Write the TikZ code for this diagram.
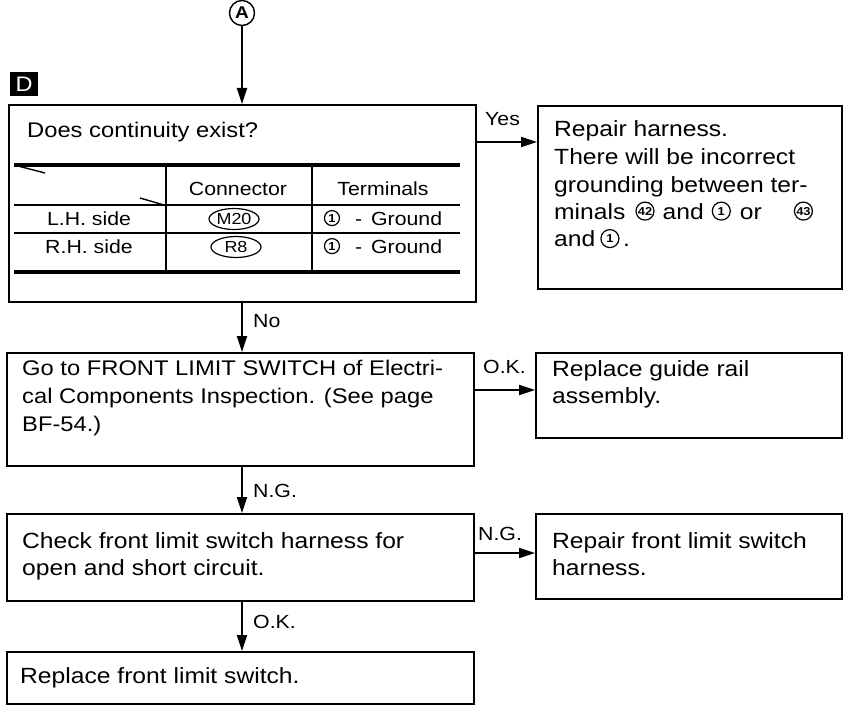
\documentclass[tikz,border=0pt]{standalone}
\usepackage{fontspec}
\setmainfont{Liberation Sans}[FakeStretch=1.12]
\usetikzlibrary{arrows.meta,shapes.geometric}
\newcommand\cnum[2][17pt]{\tikz[baseline={([yshift=1.2pt]cn.south)}]\node[draw,circle,line width=1.2pt,inner sep=0pt,minimum size=#1,font=\fontsize{11.5}{11.5}\selectfont\bfseries](cn){#2};}
\tikzset{
 box/.style={draw, line width=2.1pt, inner sep=0pt, anchor=north west},
 txt/.style={inner sep=0pt, anchor=base west, font=\fontsize{22}{27.5}\selectfont},
 txtsmall/.style={inner sep=0pt, anchor=base west, font=\fontsize{21.2}{28}\selectfont},
 lbl/.style={inner sep=0pt, anchor=base west, font=\fontsize{19}{19}\selectfont},
 tbl/.style={inner sep=0pt, anchor=base, font=\fontsize{19}{19}\selectfont},
 conn/.style={ellipse, draw, line width=1.2pt, minimum width=50pt, minimum height=21pt, inner sep=0pt, font=\fontsize{16}{16}\selectfont},
 arr/.style={line width=2pt, -{Triangle[length=16pt,width=10pt]}},
 thick rule/.style={line width=3.6pt},
 thin rule/.style={line width=1.4pt},
}
\begin{document}
\begin{tikzpicture}[x=1pt,y=-1pt]
\useasboundingbox (0,0) rectangle (843,706);
% start marker and section tag
\node[draw, circle, line width=1.4pt, minimum size=25pt, inner sep=0pt, font=\fontsize{17}{17}\selectfont\bfseries] (A) at (242,13) {A};
\node[fill=black, minimum width=28pt, minimum height=24pt, inner sep=0pt, text=white, font=\fontsize{21}{21}\selectfont] (D) at (24,84) {D};
% boxes
\node[box, minimum width=467pt, minimum height=197pt] (b1) at (8,104) {};
\node[box, minimum width=304pt, minimum height=183pt] (b2) at (537,105) {};
\node[box, minimum width=467pt, minimum height=113pt] (b3) at (6,352) {};
\node[box, minimum width=306pt, minimum height=85pt] (b4) at (535,352) {};
\node[box, minimum width=467pt, minimum height=87pt] (b5) at (6,513) {};
\node[box, minimum width=306pt, minimum height=85pt] (b6) at (535,513) {};
\node[box, minimum width=467pt, minimum height=52pt] (b7) at (6,651) {};
% texts
\node[txtsmall] (t1) at (27,138) {Does continuity exist?};
\node[txt] (t2) at (554,137) {\vtop{\hbox{Repair harness.}\hbox{There will be incorrect}\hbox{grounding between ter-}\hbox{minals\hspace{10pt}\cnum[18pt]{42}\hspace{8pt}and\hspace{8pt}\cnum[18pt]{1}\hspace{9pt}or\hspace{32pt}\cnum[18pt]{43}}\hbox{and\hspace{5pt}\cnum[18pt]{1}\,.}}};
\node[txtsmall] (t3) at (22,375) {\vtop{\hbox{Go to FRONT LIMIT SWITCH of Electri-}\hbox{cal Components Inspection. (See page}\hbox{BF-54.)}}};
\node[txt] (t4) at (552,376) {\vtop{\hbox{Replace guide rail}\hbox{assembly.}}};
\node[txt] (t5) at (22,548) {\vtop{\hbox{Check front limit switch harness for}\hbox{open and short circuit.}}};
\node[txt] (t6) at (552,548) {\vtop{\hbox{Repair front limit switch}\hbox{harness.}}};
\node[txt] (t7) at (20,683) {Replace front limit switch.};
% table
\draw[thick rule] (14,165) -- (460,165);
\draw[thin rule] (14,205) -- (460,205);
\draw[thin rule] (14,233) -- (460,233);
\draw[thick rule] (14,272) -- (460,272);
\draw[thin rule] (166,165) -- (166,272);
\draw[thin rule] (312,165) -- (312,272);
\draw[thin rule] (18,166) -- (45,173);
\draw[thin rule] (140,198) -- (164,205);
\node[tbl] (h1) at (238,195) {Connector};
\node[tbl] (h2) at (383,195) {Terminals};
\node[tbl] (r1) at (89,225) {L.H. side};
\node[tbl] (r2) at (89,253) {R.H. side};
\node[conn] (m20) at (234,219) {M20};
\node[conn] (r8) at (236,247) {R8};
\node[tbl] (g1) at (383,225) {\cnum[15pt]{1}\hspace{15pt}-\hspace{9pt}Ground};
\node[tbl] (g2) at (383,253) {\cnum[15pt]{1}\hspace{15pt}-\hspace{9pt}Ground};
% labels
\node[lbl] (lyes) at (485,125) {Yes};
\node[lbl] (lno) at (253,327) {No};
\node[lbl] (lok1) at (483,373) {O.K.};
\node[lbl] (lng1) at (253,497) {N.G.};
\node[lbl] (lng2) at (478,540) {N.G.};
\node[lbl] (lok2) at (253,628) {O.K.};
% connectors
\coordinate (ya) at (0,142);
\coordinate (yb) at (0,390);
\coordinate (yc) at (0,553);
\draw[arr] (A.south) -- (A.south |- b1.north);
\draw[arr] (b1.south -| A) -- (b3.north -| A);
\draw[arr] (b3.south -| A) -- (b5.north -| A);
\draw[arr] (b5.south -| A) -- (b7.north -| A);
\draw[arr] (b1.east |- ya) -- (b2.west |- ya);
\draw[arr] (b3.east |- yb) -- (b4.west |- yb);
\draw[arr] (b5.east |- yc) -- (b6.west |- yc);
\end{tikzpicture}
\end{document}
